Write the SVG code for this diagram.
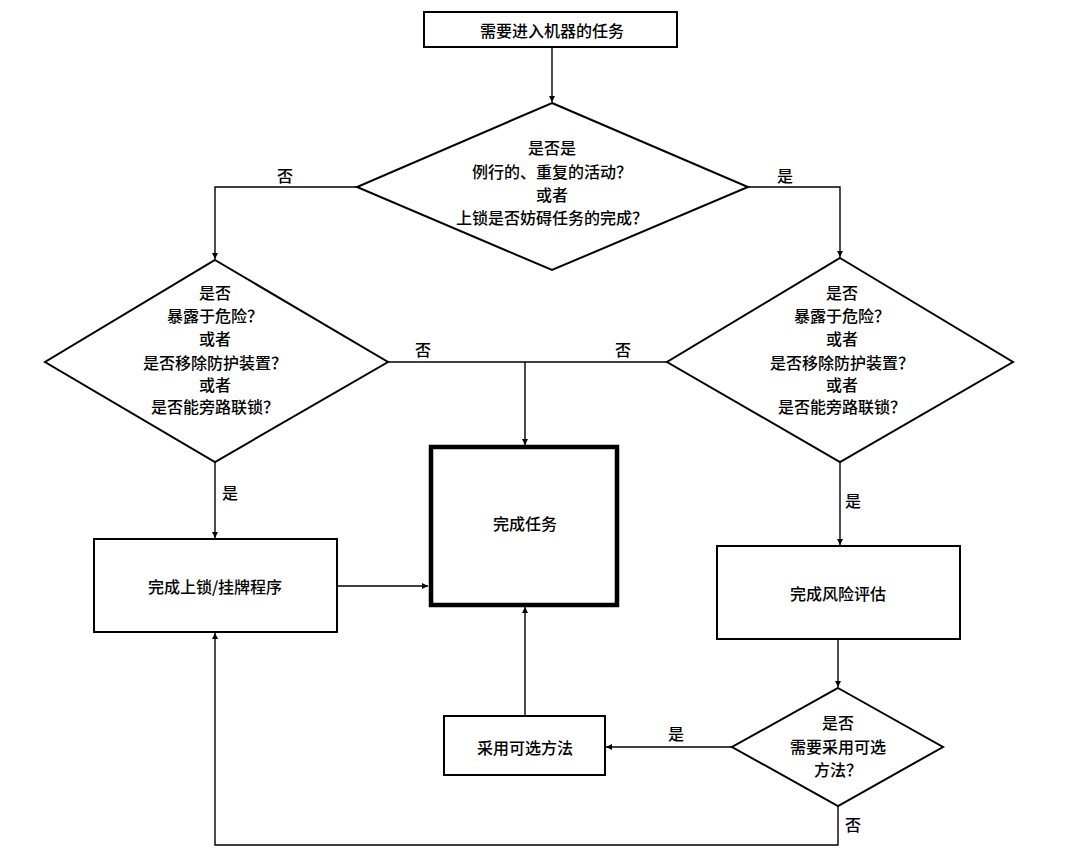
<svg xmlns="http://www.w3.org/2000/svg" width="1067" height="862" viewBox="0 0 1067 862">
<defs>
<style>
.shape{fill:#fff;stroke:#000;stroke-width:2}
.thick{fill:#fff;stroke:#000;stroke-width:4.5}
.t{font-family:"Noto Sans CJK SC","Noto Sans",sans-serif;font-size:16px;font-weight:500;fill:#000;text-anchor:middle;dominant-baseline:central}
.ln{fill:none;stroke:#000;stroke-width:1.4}
</style>
<marker id="ah" viewBox="0 0 10 10" refX="10" refY="5" markerWidth="9" markerHeight="6" markerUnits="userSpaceOnUse" orient="auto">
<path d="M0,0 L10,5 L0,10 z" fill="#000"/>
</marker>
</defs>
<rect width="1067" height="862" fill="#fff"/>
<g id="connectors">
<line class="ln" x1="552" y1="47" x2="552" y2="102" marker-end="url(#ah)"/>
<polyline class="ln" points="357,187 215,187 215,259" marker-end="url(#ah)"/>
<polyline class="ln" points="748,187 840,187 840,257" marker-end="url(#ah)"/>
<line class="ln" x1="388" y1="362" x2="667" y2="362"/>
<line class="ln" x1="525" y1="362" x2="525" y2="445" marker-end="url(#ah)"/>
<line class="ln" x1="215" y1="462" x2="215" y2="538" marker-end="url(#ah)"/>
<line class="ln" x1="840" y1="462" x2="840" y2="545" marker-end="url(#ah)"/>
<line class="ln" x1="337" y1="586" x2="428" y2="586" marker-end="url(#ah)"/>
<line class="ln" x1="838" y1="639" x2="838" y2="687" marker-end="url(#ah)"/>
<line class="ln" x1="732" y1="747" x2="606" y2="747" marker-end="url(#ah)"/>
<line class="ln" x1="525" y1="716" x2="525" y2="607" marker-end="url(#ah)"/>
<polyline class="ln" points="838,806 838,845 215,845 215,633" marker-end="url(#ah)"/>
<text class="t" x="285" y="175">否</text>
<text class="t" x="785" y="175">是</text>
<text class="t" x="423" y="349">否</text>
<text class="t" x="623" y="349">否</text>
<text class="t" x="230" y="492">是</text>
<text class="t" x="853" y="500">是</text>
<text class="t" x="676" y="733">是</text>
<text class="t" x="853" y="824">否</text>
</g>
<g id="start">
<rect class="shape" x="424" y="12" width="253" height="35"/>
<text class="t" x="552" y="30">需要进入机器的任务</text>
</g>
<g id="decision1">
<polygon class="shape" points="552,103 748,187 552,270 357,187"/>
<text class="t" x="552" y="147">是否是</text>
<text class="t" x="552" y="171">例行的、重复的活动？</text>
<text class="t" x="552" y="194">或者</text>
<text class="t" x="552" y="217">上锁是否妨碍任务的完成？</text>
</g>
<g id="decision2">
<polygon class="shape" points="215,260 388,362 215,462 45,362"/>
<text class="t" x="215" y="292">是否</text>
<text class="t" x="215" y="315">暴露于危险？</text>
<text class="t" x="215" y="338">或者</text>
<text class="t" x="215" y="362">是否移除防护装置？</text>
<text class="t" x="215" y="384">或者</text>
<text class="t" x="215" y="406">是否能旁路联锁？</text>
</g>
<g id="decision3">
<polygon class="shape" points="840,258 1013,362 840,462 667,362"/>
<text class="t" x="842" y="292">是否</text>
<text class="t" x="842" y="315">暴露于危险？</text>
<text class="t" x="842" y="338">或者</text>
<text class="t" x="842" y="362">是否移除防护装置？</text>
<text class="t" x="842" y="384">或者</text>
<text class="t" x="842" y="406">是否能旁路联锁？</text>
</g>
<g id="complete">
<rect class="thick" x="431" y="447" width="186" height="158"/>
<text class="t" x="525" y="523">完成任务</text>
</g>
<g id="lockout">
<rect class="shape" x="94" y="539" width="243" height="93"/>
<text class="t" x="215" y="586">完成上锁/挂牌程序</text>
</g>
<g id="risk">
<rect class="shape" x="717" y="546" width="243" height="93"/>
<text class="t" x="838" y="593">完成风险评估</text>
</g>
<g id="decision4">
<polygon class="shape" points="838,688 943,747 838,806 732,747"/>
<text class="t" x="838" y="722">是否</text>
<text class="t" x="838" y="746">需要采用可选</text>
<text class="t" x="838" y="769">方法？</text>
</g>
<g id="alternative">
<rect class="shape" x="444" y="716" width="161" height="59"/>
<text class="t" x="525" y="747">采用可选方法</text>
</g>
</svg>
